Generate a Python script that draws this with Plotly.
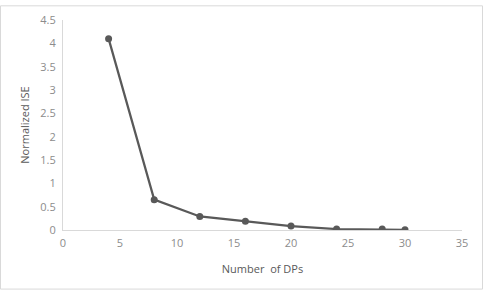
import plotly.graph_objects as go

dps = [4, 8, 12, 16, 20, 24, 28, 30]
ise = [4.1, 0.65, 0.29, 0.19, 0.085, 0.02, 0.02, 0.005]

fig = go.Figure()
fig.add_trace(go.Scatter(
    x=dps, y=ise, mode="lines+markers",
    line=dict(color="#595959", width=2.25),
    marker=dict(color="#595959", size=7),
    showlegend=False,
))

fam = "Open Sans, Liberation Sans, sans-serif"
tickfont = dict(family=fam, size=11, color="#8c8c8c")
titlefont = dict(family=fam, size=11, color="#595959")
fig.update_layout(
    width=483, height=291,
    margin=dict(l=63, r=21, t=15, b=61),
    paper_bgcolor="white", plot_bgcolor="white",
    font=tickfont,
    xaxis=dict(
        range=[0, 35], tickvals=[0, 5, 10, 15, 20, 25, 30, 35],
        showgrid=False, zeroline=False, showline=True, linecolor="#d9d9d9", linewidth=1,
        ticks="outside", ticklen=3, tickcolor="rgba(0,0,0,0)", tickfont=tickfont,
        title=dict(text="Number  of DPs", font=titlefont, standoff=16),
    ),
    yaxis=dict(
        range=[0, 4.5], tickvals=[0, 0.5, 1, 1.5, 2, 2.5, 3, 3.5, 4, 4.5],
        ticktext=["0", "0.5", "1", "1.5", "2", "2.5", "3", "3.5", "4", "4.5"],
        showgrid=False, zeroline=False, showline=True, linecolor="#d9d9d9", linewidth=1,
        ticks="outside", ticklen=4, tickcolor="rgba(0,0,0,0)", tickfont=tickfont,
        title=dict(text="Normalized ISE", font=titlefont, standoff=8),
    ),
    shapes=[dict(type="rect", xref="paper", yref="paper", x0=-62.5/399, x1=1+20.5/399,
                 y0=-60.5/215, y1=1+14.5/215, line=dict(color="#d9d9d9", width=1))],
)
fig.write_html("out.html", config={"displayModeBar": False},
               post_script="document.body.style.margin='0';")
